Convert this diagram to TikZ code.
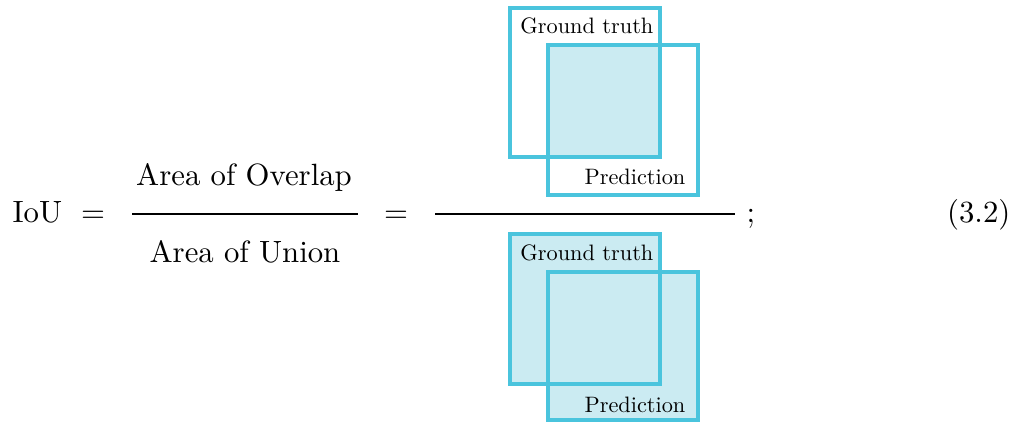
\documentclass[tikz,border=0pt]{standalone}
\usepackage{fontspec}
\newfontfamily\labfont{lmroman10-regular}[Extension=.otf]
\definecolor{iouline}{RGB}{74,196,221}
\definecolor{ioufill}{RGB}{203,235,242}
\begin{document}
\begin{tikzpicture}[x=0.325pt,y=-0.325pt,
  box/.style={draw=iouline,line width=1pt},
  lab/.style={font=\labfont\fontsize{7.25}{9}\selectfont,inner sep=0pt,anchor=base east},
  txt/.style={inner sep=0pt,anchor=base},
  fracrule/.style={line width=0.4pt}]
\useasboundingbox (0,0) rectangle (1017,423);
% left part
\node[txt,anchor=base west] (iou) at (12,222) {IoU};
\node[txt] (eq1) at (93,222) {$=$};
\node[txt] (num) at (244,185) {Area of Overlap};
\node[txt] (den) at (245,262) {Area of Union};
\coordinate (r1a) at (132,214);
\coordinate (r1b) at (358,214);
\draw[fracrule] (r1a) -- (r1b);
\node[txt] (eq2) at (396,222) {$=$};
\coordinate (r2a) at (435,214);
\coordinate (r2b) at (735,214);
\draw[fracrule] (r2a) -- (r2b);
\node[txt,anchor=base west] (semi) at (746,222) {;};
\node[txt,anchor=base east] (eqno) at (1011,223) {(3.2)};
% top: overlap
\fill[ioufill] (548,45) rectangle (660,157);
\draw[box] (510,8) rectangle (660,157);
\draw[box] (548,45) rectangle (698,195);
\node[lab] (gt1) at (654,33) {Ground truth};
\node[lab] (pr1) at (686,184) {Prediction};
% bottom: union
\fill[ioufill] (510,234) rectangle (660,384);
\fill[ioufill] (548,272) rectangle (698,420);
\draw[box] (510,234) rectangle (660,384);
\draw[box] (548,272) rectangle (698,420);
\node[lab] (gt2) at (654,260) {Ground truth};
\node[lab] (pr2) at (686,412) {Prediction};
\end{tikzpicture}
\end{document}
